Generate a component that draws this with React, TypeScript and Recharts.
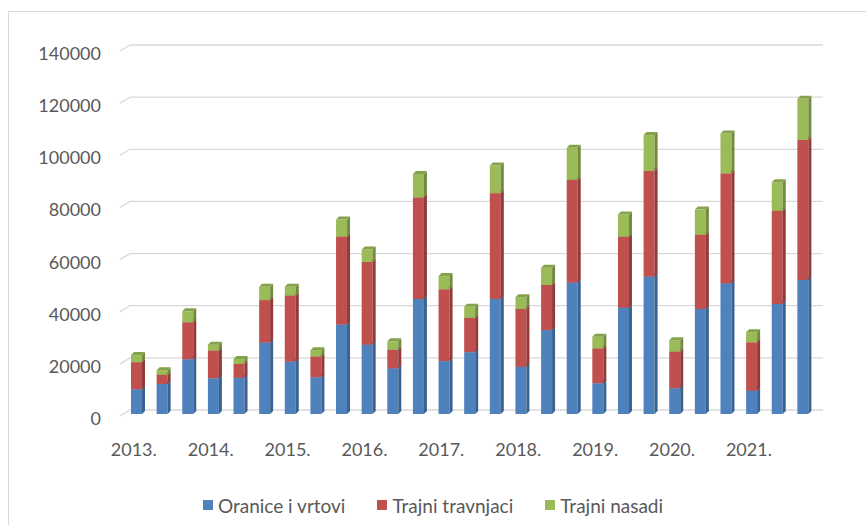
import { Bar, BarChart, CartesianGrid, Legend, XAxis, YAxis } from 'recharts';

const categories = [
  '2013.', '', '', '2014.', '', '', '2015.', '', '',
  '2016.', '', '', '2017.', '', '', '2018.', '', '',
  '2019.', '', '', '2020.', '', '', '2021.', '', '',
];

const oranice = [
  9500, 11500, 21000, 13700, 13900, 27400, 20100, 14100, 34300,
  26600, 17500, 44100, 20300, 23700, 44100, 18100, 32200, 50400,
  11800, 40800, 52700, 9900, 40300, 50100, 8900, 42200, 51400,
];

const travnjaci = [
  10400, 3500, 14200, 10600, 5300, 16300, 25300, 7900, 33700,
  31700, 7100, 39000, 27500, 13200, 40600, 22200, 17300, 39400,
  13400, 27200, 40500, 14000, 28400, 42200, 18600, 35700, 53700,
];

const nasadi = [
  2700, 1800, 4200, 2300, 1900, 5100, 3400, 2500, 6600,
  4800, 3300, 9000, 5100, 4200, 10600, 4500, 6600, 12300,
  4400, 8500, 13800, 4400, 9700, 15300, 3900, 11000, 15800,
];

const yTicks = [0, 20000, 40000, 60000, 80000, 100000, 120000, 140000];

const series = [
  { key: 'oranice', name: 'Oranice i vrtovi', front: '#4f81bd', side: '#3a6290', top: '#4674aa' },
  { key: 'travnjaci', name: 'Trajni travnjaci', front: '#c0504d', side: '#8f3b39', top: '#a94643' },
  { key: 'nasadi', name: 'Trajni nasadi', front: '#9bbb59', side: '#718a40', top: '#85a24b' },
];

const data = categories.map((name, i) => ({
  name,
  oranice: oranice[i],
  travnjaci: travnjaci[i],
  nasadi: nasadi[i],
}));

const FONT = 'Lato, "Noto Sans", sans-serif';
const TEXT = '#595959';
const GRID = '#d9d9d9';
const DEPTH = 3;

function Bar3D(props: any) {
  const { x, y, width, height, front, side, top } = props;
  if (!height || height <= 0) return null;
  const d = DEPTH;
  return (
    <g>
      <rect x={x} y={y} width={width} height={height} fill={front} />
      <polygon
        points={`${x + width},${y} ${x + width + d},${y - d} ${x + width + d},${y + height - d} ${x + width},${y + height}`}
        fill={side}
      />
      <polygon
        points={`${x},${y} ${x + d},${y - d} ${x + width + d},${y - d} ${x + width},${y}`}
        fill={top}
      />
    </g>
  );
}

function GridLine(props: any) {
  const { x1, x2, y1 } = props;
  // wall line with the small 3D floor bevel on the left
  return (
    <path
      key={props.key}
      d={`M${x1 - 4},${y1 + 2} L${x1 + 6},${y1 - 4} L${x2 + 7},${y1 - 4}`}
      stroke={GRID}
      strokeWidth={1.3}
      fill="none"
    />
  );
}

function YTick(props: any) {
  const { x, y, payload } = props;
  return (
    <text x={x} y={y + 4} textAnchor="end" dominantBaseline="central" fill={TEXT} fontSize={18} fontFamily={FONT}>
      {payload.value}
    </text>
  );
}

function XTick(props: any) {
  const { x, y, payload } = props;
  if (!payload.value) return null;
  return (
    <text x={x - 3} y={y + 27} textAnchor="middle" dominantBaseline="central" fill={TEXT} fontSize={18} fontFamily={FONT}>
      {payload.value}
    </text>
  );
}

function LegendContent() {
  return (
    <div
      style={{
        display: 'flex',
        justifyContent: 'center',
        alignItems: 'center',
        height: 26,
        gap: 32,
        fontFamily: FONT,
        fontSize: 19,
        color: TEXT,
      }}
    >
      {series.map(s => (
        <span key={s.key} style={{ display: 'flex', alignItems: 'center' }}>
          <span style={{ display: 'inline-block', width: 10, height: 10, background: s.front, marginRight: 5 }} />
          {s.name}
        </span>
      ))}
    </div>
  );
}

export default function App() {
  return (
    <div style={{ position: 'absolute', left: 0, top: 0, width: 866, height: 525, overflow: 'hidden', background: '#fff' }}>
      <div
        style={{
          position: 'absolute',
          left: 8,
          top: 11,
          width: 900,
          height: 600,
          borderLeft: `1px solid ${GRID}`,
          borderTop: `1px solid ${GRID}`,
        }}
      />
      <BarChart width={866} height={525} data={data} margin={{ top: 49, right: 50, left: 0, bottom: 10 }}>
        <CartesianGrid vertical={false} horizontal={(p: any) => <GridLine {...p} />} />
        <XAxis
          dataKey="name"
          height={75}
          interval={0}
          axisLine={false}
          tickLine={false}
          tick={<XTick />}
        />
        <YAxis
          width={124}
          domain={[0, 140000]}
          ticks={yTicks}
          axisLine={false}
          tickLine={false}
          tickSize={0}
          tickMargin={23}
          tick={<YTick />}
        />
        {series.map(s => (
          <Bar
            key={s.key}
            dataKey={s.key}
            name={s.name}
            stackId="a"
            barSize={11}
            fill={s.front}
            isAnimationActive={false}
            shape={(p: any) => <Bar3D {...p} front={s.front} side={s.side} top={s.top} />}
          />
        ))}
        <Legend verticalAlign="bottom" content={<LegendContent />} wrapperStyle={{ left: 0, width: 866, bottom: 7 }} />
      </BarChart>
    </div>
  );
}
